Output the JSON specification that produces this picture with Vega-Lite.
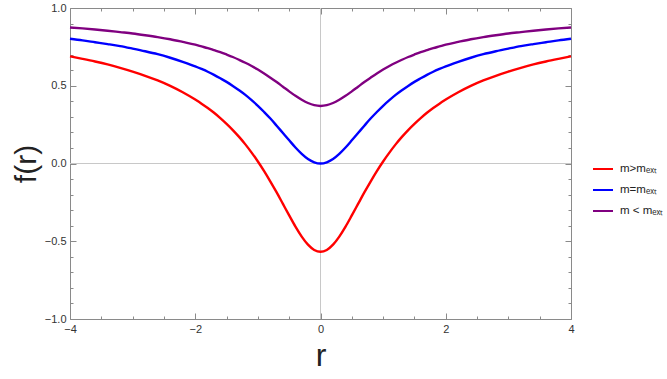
{
  "$schema": "https://vega.github.io/schema/vega-lite/v6.json",
  "width": 501,
  "height": 311,
  "autosize": {"type": "none"},
  "padding": {"left": 70, "top": 8, "right": 96, "bottom": 60},
  "background": "white",
  "config": {
    "view": {"stroke": null},
    "axis": {"grid": false, "labelFont": "Liberation Sans", "titleFont": "Liberation Sans", "labelColor": "#333333", "titleColor": "#222222", "domainColor": "#8a8a8a", "tickColor": "#8a8a8a", "labelFontSize": 11, "titleFontWeight": "normal"},
    "legend": {"labelFont": "Liberation Sans", "labelFontSize": 11, "labelColor": "#222222"}
  },
  "datasets": {
    "z": [{"v": 0}],
    "curves": [
      {"s":"a","r":-4,"f":0.689},{"s":"a","r":-3.8,"f":0.673},{"s":"a","r":-3.6,"f":0.656},{"s":"a","r":-3.4,"f":0.637},{"s":"a","r":-3.2,"f":0.615},{"s":"a","r":-3,"f":0.591},{"s":"a","r":-2.8,"f":0.564},{"s":"a","r":-2.6,"f":0.534},{"s":"a","r":-2.4,"f":0.499},{"s":"a","r":-2.2,"f":0.458},{"s":"a","r":-2,"f":0.411},{"s":"a","r":-1.9,"f":0.385},{"s":"a","r":-1.8,"f":0.357},{"s":"a","r":-1.7,"f":0.326},{"s":"a","r":-1.6,"f":0.292},{"s":"a","r":-1.5,"f":0.255},{"s":"a","r":-1.4,"f":0.215},{"s":"a","r":-1.3,"f":0.171},{"s":"a","r":-1.2,"f":0.123},{"s":"a","r":-1.1,"f":0.070},{"s":"a","r":-1,"f":0.013},{"s":"a","r":-0.9,"f":-0.049},{"s":"a","r":-0.8,"f":-0.116},{"s":"a","r":-0.7,"f":-0.186},{"s":"a","r":-0.6,"f":-0.260},{"s":"a","r":-0.5,"f":-0.334},{"s":"a","r":-0.4,"f":-0.406},{"s":"a","r":-0.3,"f":-0.470},{"s":"a","r":-0.2,"f":-0.522},{"s":"a","r":-0.1,"f":-0.556},{"s":"a","r":0,"f":-0.568},{"s":"a","r":0.1,"f":-0.556},{"s":"a","r":0.2,"f":-0.522},{"s":"a","r":0.3,"f":-0.470},{"s":"a","r":0.4,"f":-0.406},{"s":"a","r":0.5,"f":-0.334},{"s":"a","r":0.6,"f":-0.260},{"s":"a","r":0.7,"f":-0.186},{"s":"a","r":0.8,"f":-0.116},{"s":"a","r":0.9,"f":-0.049},{"s":"a","r":1,"f":0.013},{"s":"a","r":1.1,"f":0.070},{"s":"a","r":1.2,"f":0.123},{"s":"a","r":1.3,"f":0.171},{"s":"a","r":1.4,"f":0.215},{"s":"a","r":1.5,"f":0.255},{"s":"a","r":1.6,"f":0.292},{"s":"a","r":1.7,"f":0.326},{"s":"a","r":1.8,"f":0.357},{"s":"a","r":1.9,"f":0.385},{"s":"a","r":2,"f":0.411},{"s":"a","r":2.2,"f":0.458},{"s":"a","r":2.4,"f":0.499},{"s":"a","r":2.6,"f":0.534},{"s":"a","r":2.8,"f":0.564},{"s":"a","r":3,"f":0.591},{"s":"a","r":3.2,"f":0.615},{"s":"a","r":3.4,"f":0.637},{"s":"a","r":3.6,"f":0.656},{"s":"a","r":3.8,"f":0.673},{"s":"a","r":4,"f":0.689},
      {"s":"b","r":-4,"f":0.802},{"s":"b","r":-3.8,"f":0.792},{"s":"b","r":-3.6,"f":0.780},{"s":"b","r":-3.4,"f":0.768},{"s":"b","r":-3.2,"f":0.755},{"s":"b","r":-3,"f":0.739},{"s":"b","r":-2.8,"f":0.722},{"s":"b","r":-2.6,"f":0.703},{"s":"b","r":-2.4,"f":0.680},{"s":"b","r":-2.2,"f":0.654},{"s":"b","r":-2,"f":0.625},{"s":"b","r":-1.9,"f":0.608},{"s":"b","r":-1.8,"f":0.590},{"s":"b","r":-1.7,"f":0.570},{"s":"b","r":-1.6,"f":0.548},{"s":"b","r":-1.5,"f":0.525},{"s":"b","r":-1.4,"f":0.499},{"s":"b","r":-1.3,"f":0.471},{"s":"b","r":-1.2,"f":0.441},{"s":"b","r":-1.1,"f":0.407},{"s":"b","r":-1,"f":0.371},{"s":"b","r":-0.9,"f":0.331},{"s":"b","r":-0.8,"f":0.289},{"s":"b","r":-0.7,"f":0.243},{"s":"b","r":-0.6,"f":0.196},{"s":"b","r":-0.5,"f":0.149},{"s":"b","r":-0.4,"f":0.103},{"s":"b","r":-0.3,"f":0.062},{"s":"b","r":-0.2,"f":0.029},{"s":"b","r":-0.1,"f":0.008},{"s":"b","r":0,"f":0.000},{"s":"b","r":0.1,"f":0.008},{"s":"b","r":0.2,"f":0.029},{"s":"b","r":0.3,"f":0.062},{"s":"b","r":0.4,"f":0.103},{"s":"b","r":0.5,"f":0.149},{"s":"b","r":0.6,"f":0.196},{"s":"b","r":0.7,"f":0.243},{"s":"b","r":0.8,"f":0.289},{"s":"b","r":0.9,"f":0.331},{"s":"b","r":1,"f":0.371},{"s":"b","r":1.1,"f":0.407},{"s":"b","r":1.2,"f":0.441},{"s":"b","r":1.3,"f":0.471},{"s":"b","r":1.4,"f":0.499},{"s":"b","r":1.5,"f":0.525},{"s":"b","r":1.6,"f":0.548},{"s":"b","r":1.7,"f":0.570},{"s":"b","r":1.8,"f":0.590},{"s":"b","r":1.9,"f":0.608},{"s":"b","r":2,"f":0.625},{"s":"b","r":2.2,"f":0.654},{"s":"b","r":2.4,"f":0.680},{"s":"b","r":2.6,"f":0.703},{"s":"b","r":2.8,"f":0.722},{"s":"b","r":3,"f":0.739},{"s":"b","r":3.2,"f":0.755},{"s":"b","r":3.4,"f":0.768},{"s":"b","r":3.6,"f":0.780},{"s":"b","r":3.8,"f":0.792},{"s":"b","r":4,"f":0.802},
      {"s":"c","r":-4,"f":0.875},{"s":"c","r":-3.8,"f":0.869},{"s":"c","r":-3.6,"f":0.862},{"s":"c","r":-3.4,"f":0.854},{"s":"c","r":-3.2,"f":0.845},{"s":"c","r":-3,"f":0.836},{"s":"c","r":-2.8,"f":0.825},{"s":"c","r":-2.6,"f":0.813},{"s":"c","r":-2.4,"f":0.799},{"s":"c","r":-2.2,"f":0.782},{"s":"c","r":-2,"f":0.764},{"s":"c","r":-1.9,"f":0.753},{"s":"c","r":-1.8,"f":0.742},{"s":"c","r":-1.7,"f":0.729},{"s":"c","r":-1.6,"f":0.716},{"s":"c","r":-1.5,"f":0.701},{"s":"c","r":-1.4,"f":0.685},{"s":"c","r":-1.3,"f":0.667},{"s":"c","r":-1.2,"f":0.648},{"s":"c","r":-1.1,"f":0.627},{"s":"c","r":-1,"f":0.604},{"s":"c","r":-0.9,"f":0.579},{"s":"c","r":-0.8,"f":0.552},{"s":"c","r":-0.7,"f":0.524},{"s":"c","r":-0.6,"f":0.494},{"s":"c","r":-0.5,"f":0.464},{"s":"c","r":-0.4,"f":0.435},{"s":"c","r":-0.3,"f":0.410},{"s":"c","r":-0.2,"f":0.389},{"s":"c","r":-0.1,"f":0.375},{"s":"c","r":0,"f":0.370},{"s":"c","r":0.1,"f":0.375},{"s":"c","r":0.2,"f":0.389},{"s":"c","r":0.3,"f":0.410},{"s":"c","r":0.4,"f":0.435},{"s":"c","r":0.5,"f":0.464},{"s":"c","r":0.6,"f":0.494},{"s":"c","r":0.7,"f":0.524},{"s":"c","r":0.8,"f":0.552},{"s":"c","r":0.9,"f":0.579},{"s":"c","r":1,"f":0.604},{"s":"c","r":1.1,"f":0.627},{"s":"c","r":1.2,"f":0.648},{"s":"c","r":1.3,"f":0.667},{"s":"c","r":1.4,"f":0.685},{"s":"c","r":1.5,"f":0.701},{"s":"c","r":1.6,"f":0.716},{"s":"c","r":1.7,"f":0.729},{"s":"c","r":1.8,"f":0.742},{"s":"c","r":1.9,"f":0.753},{"s":"c","r":2,"f":0.764},{"s":"c","r":2.2,"f":0.782},{"s":"c","r":2.4,"f":0.799},{"s":"c","r":2.6,"f":0.813},{"s":"c","r":2.8,"f":0.825},{"s":"c","r":3,"f":0.836},{"s":"c","r":3.2,"f":0.845},{"s":"c","r":3.4,"f":0.854},{"s":"c","r":3.6,"f":0.862},{"s":"c","r":3.8,"f":0.869},{"s":"c","r":4,"f":0.875}
    ]
  },
  "resolve": {"axis": {"x": "independent", "y": "independent"}},
  "layer": [
    {
      "data": {"name": "z"},
      "mark": {"type": "rule", "color": "#c8c8c8", "strokeWidth": 1},
      "encoding": {
        "x": {"field": "v", "type": "quantitative", "scale": {"domain": [-4, 4], "nice": false, "zero": false},
              "axis": {"orient": "top", "values": [-4, -2, 0, 2, 4], "labels": false, "title": null, "tickSize": -6, "domain": true}}
      }
    },
    {
      "data": {"name": "z"},
      "mark": {"type": "rule", "color": "#c8c8c8", "strokeWidth": 1},
      "encoding": {
        "y": {"field": "v", "type": "quantitative", "scale": {"domain": [-1, 1], "nice": false, "zero": false},
              "axis": {"orient": "right", "values": [-1, -0.5, 0, 0.5, 1], "labels": false, "title": null, "tickSize": -6, "domain": true}}
      }
    },
    {
      "data": {"name": "z"},
      "mark": {"type": "point", "opacity": 0},
      "encoding": {
        "x": {"field": "v", "type": "quantitative", "axis": {"orient": "bottom", "values": [-3.5, -3, -2.5, -1.5, -1, -0.5, 0.5, 1, 1.5, 2.5, 3, 3.5], "labels": false, "title": null, "tickSize": -3, "domain": false}},
        "y": {"field": "v", "type": "quantitative", "axis": {"orient": "left", "values": [-0.9, -0.8, -0.7, -0.6, -0.4, -0.3, -0.2, -0.1, 0.1, 0.2, 0.3, 0.4, 0.6, 0.7, 0.8, 0.9], "labels": false, "title": null, "tickSize": -3, "domain": false}}
      }
    },
    {
      "data": {"name": "z"},
      "mark": {"type": "point", "opacity": 0},
      "encoding": {
        "x": {"field": "v", "type": "quantitative", "axis": {"orient": "top", "values": [-3.5, -3, -2.5, -1.5, -1, -0.5, 0.5, 1, 1.5, 2.5, 3, 3.5], "labels": false, "title": null, "tickSize": -3, "domain": false}},
        "y": {"field": "v", "type": "quantitative", "axis": {"orient": "right", "values": [-0.9, -0.8, -0.7, -0.6, -0.4, -0.3, -0.2, -0.1, 0.1, 0.2, 0.3, 0.4, 0.6, 0.7, 0.8, 0.9], "labels": false, "title": null, "tickSize": -3, "domain": false}}
      }
    },
    {
      "data": {"name": "z"},
      "mark": {"type": "point", "opacity": 0},
      "encoding": {
        "x": {"field": "v", "type": "quantitative", "axis": {"orient": "bottom", "values": [-4, -2, 0, 2, 4], "labels": false, "title": null, "tickSize": -6, "domain": false}},
        "y": {"field": "v", "type": "quantitative", "axis": {"orient": "left", "values": [-1, -0.5, 0, 0.5, 1], "labels": false, "title": null, "tickSize": -6, "domain": false}}
      }
    },
    {
      "data": {"name": "curves"},
      "mark": {"type": "line", "strokeWidth": 2.4, "interpolate": "monotone"},
      "encoding": {
        "x": {"field": "r", "type": "quantitative",
              "axis": {"orient": "bottom", "values": [-4, -2, 0, 2, 4], "format": ".0f", "ticks": false, "labelPadding": 4, "domain": true, "title": "r", "titleFontSize": 32, "titlePadding": 6, "labelFlush": false}},
        "y": {"field": "f", "type": "quantitative",
              "axis": {"orient": "left", "values": [-1, -0.5, 0, 0.5, 1], "format": ".1f", "ticks": false, "labelPadding": 4, "domain": true, "title": "f(r)", "titleFontSize": 30, "titlePadding": 3, "labelFlush": false}},
        "color": {"field": "s", "type": "nominal",
                  "scale": {"domain": ["a", "b", "c"], "range": ["#ff0000", "#0000ff", "#800080"]},
                  "legend": {"title": null, "orient": "none", "legendX": 522, "legendY": 150, "symbolType": "stroke", "symbolStrokeWidth": 2, "symbolSize": 400, "rowPadding": 4, "labelOffset": 6, "labelFontSize": 11.5,
                             "labelExpr": "datum.value == 'a' ? 'm>mₑₓₜ' : datum.value == 'b' ? 'm=mₑₓₜ' : 'm < mₑₓₜ'"}}
      }
    }
  ]
}
